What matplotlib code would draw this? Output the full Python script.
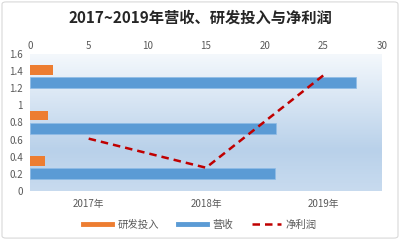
import matplotlib
matplotlib.use("Agg")
import matplotlib.pyplot as plt
import numpy as np
from matplotlib.patches import FancyBboxPatch
from matplotlib.lines import Line2D
from matplotlib.colors import LinearSegmentedColormap

plt.rcParams['font.family'] = ['Noto Sans CJK SC', 'DejaVu Sans']

years = ["2017年", "2018年", "2019年"]
rd = [1.28, 1.56, 1.93]          # 研发投入
revenue = [20.9, 21.0, 27.8]     # 营收
profit = [0.61, 0.27, 1.35]      # 净利润
top_ticks = [0, 5, 10, 15, 20, 25, 30]
left_ticks = [0, 0.2, 0.4, 0.6, 0.8, 1, 1.2, 1.4, 1.6]
left_labels = ["0", "0.2", "0.4", "0.6", "0.8", "1", "1.2", "1.4", "1.6"]

fig = plt.figure(figsize=(4, 2.4), dpi=100)
fig.patches.append(FancyBboxPatch((0.005, 0.008), 0.99, 0.984, boxstyle="round,pad=0,rounding_size=0.01",
                                  transform=fig.transFigure, fill=False, edgecolor="#d9d9d9", lw=0.8))

pos = [0.075, 0.205, 0.88, 0.57]
axB = fig.add_axes(pos)
grad = np.linspace(0, 1, 256).reshape(-1, 1)
cmap = LinearSegmentedColormap.from_list("g", [(0, "#f4f8fc"), (0.7, "#b9d1ea"), (1.0, "#c8dbef")])
axB.imshow(grad, aspect="auto", cmap=cmap, extent=[0, 30, 0, 3], origin="upper", zorder=0)

ypos = np.arange(3) + 0.5
axB.barh(ypos + 0.15, rd, height=0.21, color="#ed7d31", zorder=2)
axB.barh(ypos - 0.13, revenue, height=0.24, color="#5b9bd5", edgecolor="#8fbce6", linewidth=0.5, zorder=2)
axB.set_xlim(0, 30)
axB.set_ylim(0, 3)
axB.xaxis.tick_top()
axB.set_xticks(top_ticks)
axB.set_xticklabels([str(t) for t in top_ticks], fontsize=7, color="#595959")
axB.tick_params(axis="x", length=0, pad=2)
axB.set_yticks([])
for s in axB.spines.values():
    s.set_visible(False)

axL = fig.add_axes(pos)
axL.patch.set_alpha(0)
axL.plot(range(3), profit, color="#c00000", lw=1.8, ls=(0, (3, 2)), zorder=3)
axL.set_xlim(-0.5, 2.5)
axL.set_ylim(0, 1.6)
axL.set_xticks(range(3))
axL.set_xticklabels(years, fontsize=7, color="#595959")
axL.set_yticks(left_ticks)
axL.set_yticklabels(left_labels, fontsize=7, color="#595959")
axL.tick_params(axis="y", length=0, pad=5)
axL.tick_params(axis="x", length=0, pad=6)
for s in axL.spines.values():
    s.set_visible(False)

fig.text(0.5, 0.925, "2017~2019年营收、研发投入与净利润", ha="center", va="center",
         fontsize=11, fontweight="bold", color="#262626")

handles = [Line2D([0], [0], color="#ed7d31", lw=3.5),
           Line2D([0], [0], color="#5b9bd5", lw=3.5),
           Line2D([0], [0], color="#c00000", lw=1.8, ls=(0, (3, 2)))]
fig.legend(handles, ["研发投入", "营收", "净利润"], loc="center", bbox_to_anchor=(0.5, 0.063),
           ncol=3, frameon=False, fontsize=7.5, handlelength=2.8, columnspacing=1.8,
           handletextpad=0.5, labelcolor="#595959")

fig.savefig("out.png", dpi=100)
